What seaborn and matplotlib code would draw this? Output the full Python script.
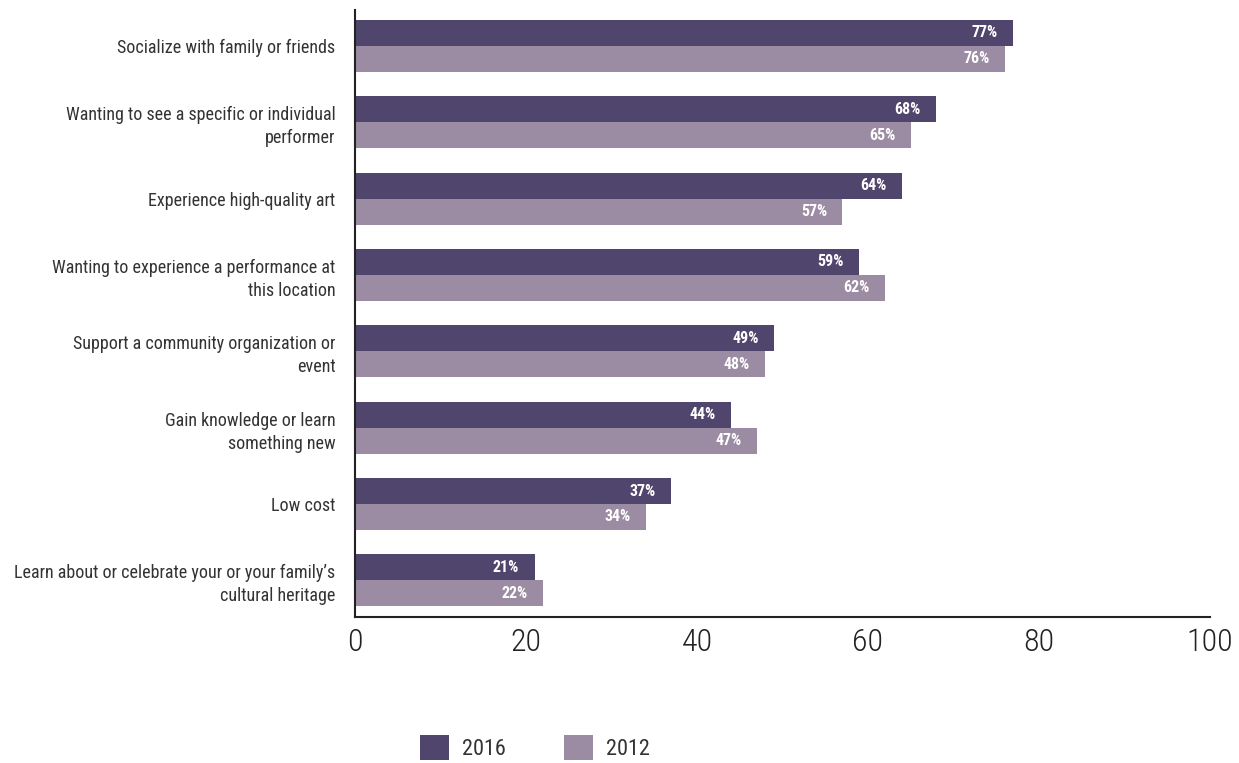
import matplotlib
matplotlib.use("Agg")
import matplotlib.pyplot as plt
import seaborn as sns
import pandas as pd
from matplotlib.patches import Patch

categories = [
    "Socialize with family or friends",
    "Wanting to see a specific or individual\nperformer",
    "Experience high-quality art",
    "Wanting to experience a performance at\nthis location",
    "Support a community organization or\nevent",
    "Gain knowledge or learn\nsomething new",
    "Low cost",
    "Learn about or celebrate your or your family\u2019s\ncultural heritage",
]
values_2016 = [77, 68, 64, 59, 49, 44, 37, 21]
values_2012 = [76, 65, 57, 62, 48, 47, 34, 22]
years = ["2016", "2012"]
colors = ["#50456d", "#9c8ca3"]

df = pd.DataFrame({
    "category": categories * 2,
    "value": values_2016 + values_2012,
    "year": [years[0]] * len(categories) + [years[1]] * len(categories),
})

sns.set_style("white")
plt.rcParams["font.family"] = ["Roboto Condensed", "Liberation Sans Narrow", "Roboto", "DejaVu Sans"]

fig = plt.figure(figsize=(12.39, 7.63), dpi=100)
ax = fig.add_axes([355 / 1239, 1 - 617 / 763, (1210 - 355) / 1239, (617 - 10) / 763])

sns.barplot(data=df, y="category", x="value", hue="year", order=categories,
            hue_order=years, palette=colors, orient="h", width=0.68,
            saturation=1, dodge=True, legend=False, linewidth=0, ax=ax)

for container in ax.containers:
    for bar in container:
        w = bar.get_width()
        ax.annotate(f"{int(round(w))}%", xy=(w, bar.get_y() + bar.get_height() / 2),
                    xytext=(-11, 0), textcoords="offset points", ha="right", va="center",
                    color="white", fontsize=11.5, fontweight="bold")

ax.set_xlim(0, 100)
ax.set_ylim(7.48, -0.47)
ax.set_xticks([0, 20, 40, 60, 80, 100])
ax.set_xlabel("")
ax.set_ylabel("")
ax.tick_params(axis="x", length=0, labelsize=23, labelcolor="#222222", pad=8)
ax.tick_params(axis="y", length=0, labelsize=13, labelcolor="#333333", pad=14)
for lbl in ax.get_xticklabels():
    lbl.set_fontweight("light")
for lbl in ax.get_yticklabels():
    lbl.set_horizontalalignment("right")
    lbl.set_multialignment("right")
    lbl.set_linespacing(1.35)
for s in ["top", "right"]:
    ax.spines[s].set_visible(False)
for s in ["left", "bottom"]:
    ax.spines[s].set_color("#222222")
    ax.spines[s].set_linewidth(1.5)

handles = [Patch(facecolor=c, edgecolor="none", label=y) for c, y in zip(colors, years)]
fig.legend(handles=handles, loc="center", bbox_to_anchor=(0.432, 0.02), ncol=2,
           frameon=False, handlelength=1.3, handleheight=1.3,
           columnspacing=2.6, handletextpad=0.6, labelcolor="#333333",
           prop={"size": 16})

fig.savefig("out.png", dpi=100)
